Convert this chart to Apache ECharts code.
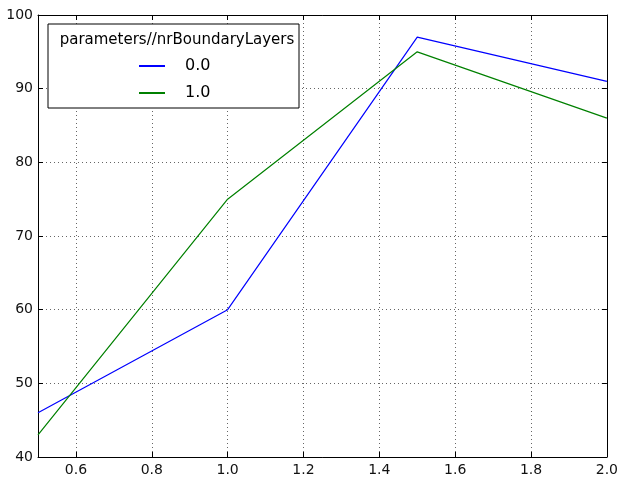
<!DOCTYPE html>
<html>
<head>
<meta charset="utf-8">
<script src="https://cdn.jsdelivr.net/npm/echarts@6/dist/echarts.min.js"></script>
<style>
  html, body { margin: 0; padding: 0; background: #fff; }
  #chart { width: 621px; height: 477px; }
</style>
</head>
<body>
<div id="chart"></div>
<script>
// values
const xValues = [0.5, 1.0, 1.5, 2.0]
const layers0 = [46, 60, 97, 91]
const layers1 = [43, 75, 95, 86]
const xTicks = [0.6, 0.8, 1.0, 1.2, 1.4, 1.6, 1.8, 2.0]
const legendTitle = 'parameters//nrBoundaryLayers'
const seriesNames = ['0.0', '1.0']

const font = 'DejaVu Sans'
const pairs = (ys) => xValues.map((x, i) => [x, ys[i]])

const chart = echarts.init(document.getElementById('chart'))

const frameLine = { show: true, lineStyle: { color: '#000', width: 1 } }
const inTick = { show: true, inside: true, length: 5, lineStyle: { color: '#000' } }
const gridLine = { show: true, lineStyle: { color: '#666', type: [1, 3], width: 1 } }

chart.setOption({
  animation: false,
  textStyle: { fontFamily: font },
  grid: { left: 38, right: 13, top: 15, bottom: 20 },
  title: {
    text: legendTitle,
    left: 172,
    top: 28,
    textAlign: 'center',
    z: 10,
    textStyle: { fontFamily: font, fontSize: 15, fontWeight: 'normal', color: '#000' },
  },
  legend: {
    orient: 'vertical',
    left: 134,
    top: 53,
    z: 10,
    itemWidth: 26,
    itemHeight: 2,
    itemGap: 11,
    icon: 'rect',
    data: seriesNames,
    textStyle: { fontFamily: font, fontSize: 16, color: '#000', padding: [0, 0, 0, 15] },
  },
  graphic: [
    {
      type: 'rect',
      shape: { x: 48, y: 24, width: 251, height: 84 },
      style: { fill: '#fff', stroke: '#000', lineWidth: 1 },
      z: 5,
    },
  ],
  xAxis: [
    {
      type: 'value',
      min: 0.5,
      max: 2.0,
      axisLine: frameLine,
      axisTick: { ...inTick, customValues: xTicks },
      axisLabel: {
        customValues: xTicks,
        color: '#111',
        fontSize: 14,
        margin: 6,
        formatter: (v) => v.toFixed(1),
      },
      splitLine: gridLine,
    },
    {
      type: 'value',
      position: 'top',
      min: 0.5,
      max: 2.0,
      axisLine: frameLine,
      axisTick: { ...inTick, customValues: xTicks },
      axisLabel: { show: false, customValues: xTicks },
      splitLine: { show: false },
    },
  ],
  yAxis: [
    {
      type: 'value',
      min: 40,
      max: 100,
      interval: 10,
      axisLine: frameLine,
      axisTick: inTick,
      axisLabel: { color: '#111', fontSize: 14, margin: 5 },
      splitLine: gridLine,
    },
    {
      type: 'value',
      position: 'right',
      min: 40,
      max: 100,
      interval: 10,
      axisLine: frameLine,
      axisTick: inTick,
      axisLabel: { show: false },
      splitLine: { show: false },
    },
  ],
  series: [
    {
      name: seriesNames[0],
      type: 'line',
      data: pairs(layers0),
      symbol: 'none',
      lineStyle: { color: '#0000ff', width: 1.2 },
      itemStyle: { color: '#0000ff' },
      z: 3,
    },
    {
      name: seriesNames[1],
      type: 'line',
      data: pairs(layers1),
      symbol: 'none',
      lineStyle: { color: '#008000', width: 1.2 },
      itemStyle: { color: '#008000' },
      z: 3,
    },
  ],
})
</script>
</body>
</html>
